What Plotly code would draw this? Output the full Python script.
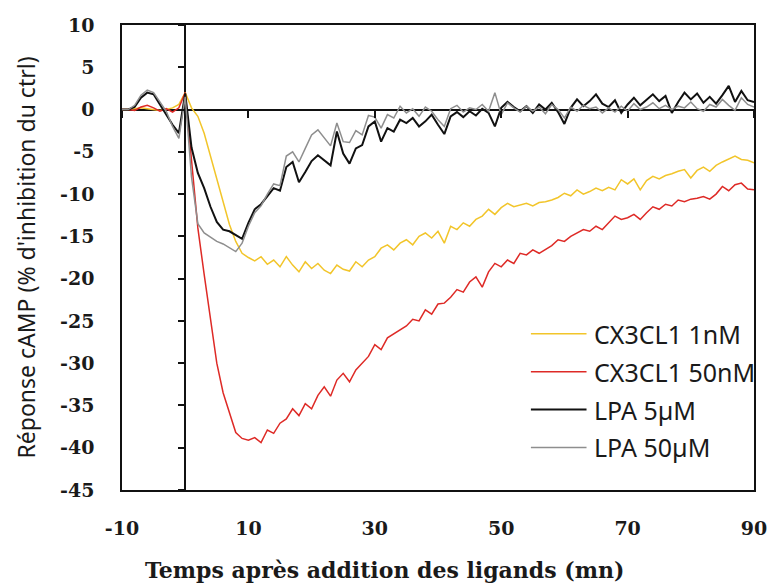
import plotly.graph_objects as go

# Time after ligand addition (min)
temps = list(range(-10, 91))

# cAMP response (% inhibition of control) for each ligand
cx3cl1_1nm = [
    0, 0, 0.1, 0.2, 0.1, 0.0, -0.1, 0.0, 0.2, 0.6,
    2.0, 0.2, -0.8, -2.8, -5.5, -8.2, -11.0, -13.6, -15.6, -17.0,
    -17.5, -17.9, -17.4, -18.3, -17.8, -18.6, -17.4, -18.4, -19.2, -18.0,
    -18.8, -18.2, -19.0, -19.4, -18.4, -18.9, -19.1, -18.0, -18.6, -17.8,
    -17.4, -16.4, -16.0, -16.6, -15.8, -15.4, -16.0, -15.0, -14.6, -15.2,
    -14.4, -15.8, -13.8, -14.2, -13.4, -13.8, -13.0, -12.6, -11.8, -12.4,
    -11.6, -11.1, -11.5, -11.3, -11.1, -11.4, -11.0, -10.9, -10.7, -10.4,
    -9.9, -10.2, -9.5, -10.0, -9.7, -9.3, -9.6, -9.2, -9.5, -8.3,
    -8.8, -8.2, -9.5, -8.4, -7.9, -8.2, -7.8, -7.6, -7.3, -7.1,
    -8.1, -7.2, -6.8, -7.3, -6.6, -6.2, -5.8, -5.5, -5.9, -6.0,
    -6.3,
]
cx3cl1_50nm = [
    0, 0, -0.1, 0.3, 0.5, 0.2, -0.2, 0.1, -0.3, 0.2,
    2.0, -6.0, -14.0, -19.5, -25.0, -30.0, -33.5, -36.0, -38.2, -38.9,
    -39.1, -38.8, -39.4, -37.9, -38.3, -37.1, -36.6, -35.4, -36.2, -34.8,
    -35.4, -33.8, -32.8, -33.9, -32.0, -31.2, -32.2, -30.8, -30.0, -29.2,
    -27.8, -28.4, -27.0, -26.5, -26.0, -25.6, -24.8, -25.0, -23.7, -24.2,
    -23.0, -22.9, -22.2, -21.3, -21.6, -20.4, -19.8, -21.0, -19.2, -18.2,
    -18.6, -17.8, -18.2, -17.0, -17.2, -16.6, -17.0, -16.6, -16.1, -15.4,
    -15.6, -15.0, -14.6, -14.2, -14.4, -13.8, -14.2, -13.4, -12.6, -13.0,
    -12.8, -12.4, -13.0, -12.2, -11.5, -11.8, -11.2, -11.4, -10.7, -10.9,
    -10.6, -10.5, -10.3, -10.6, -10.0, -9.1, -9.6, -8.9, -8.7, -9.4,
    -9.5,
]
lpa_5um = [
    0, 0, 0.3, 1.4, 2.0, 1.8, 0.6, -0.6, -1.8, -2.8,
    1.9, -4.5, -7.5, -9.3, -11.5, -13.3, -14.2, -14.4, -14.9, -15.3,
    -13.4, -11.8, -11.2, -10.2, -9.3, -9.6, -6.8, -6.2, -8.6, -7.4,
    -6.1, -5.4, -6.0, -6.6, -2.6, -5.2, -6.4, -4.6, -4.2, -2.0,
    -1.4, -3.8, -2.2, -2.6, -1.2, -1.6, -1.0, -2.0, -1.4, -0.6,
    -1.8, -2.9, -0.8, -0.3, -0.9, -0.2, -0.7, 0.1, -0.4, -2.0,
    0.2, 0.9, 0.3, -0.2, 0.4, -0.4, 0.6, 0.0, 0.8, -0.3,
    -1.7, 0.2, 1.2, 0.4, 1.0, 1.8, 0.7, 0.3, 1.1, -0.4,
    0.6, 1.4, 0.5, 1.2, 1.8, 1.0, 1.6, -0.4, 0.9, 2.0,
    1.2, 1.9, 0.8, 1.5, 0.7, 1.7, 2.8, 0.9, 2.2, 1.1,
    0.9,
]
lpa_50um = [
    0, 0, 0.5, 1.7, 2.3, 2.0, 0.9, -0.2, -2.0, -3.4,
    1.5, -8.0, -13.5, -14.6, -15.1, -15.6, -15.9, -16.4, -16.8, -15.8,
    -13.8, -12.2, -11.4, -10.0, -8.8, -9.0, -5.5, -5.0, -6.2, -4.6,
    -3.0, -2.4, -3.4, -4.3, -1.6, -3.8, -3.9, -2.5, -3.0, -0.7,
    -0.9, -2.2, -0.6, -1.0, 0.4, -0.4, 0.1, -0.8, 0.3, -0.2,
    -1.2, -2.0, 0.1, 0.5, -0.3, 0.2, 0.0, 0.6, -0.2, 2.0,
    -0.6, 0.8, 0.2, -0.3, 0.4, -0.2, 0.3, -0.5, 0.6, 0.0,
    -1.0, 0.3, -0.2, 0.5, 0.1, 0.3, -0.4, 0.2, -0.3, 0.4,
    -0.2, 0.7, 0.0, 0.3, 0.8, 0.1, 0.5, 0.0, 0.4, 0.2,
    0.9, 0.1, -0.2, 0.6, 0.3, 1.2, 0.5, -0.1, 1.4, 0.6,
    0.3,
]

series_names = ["CX3CL1 1nM", "CX3CL1 50nM", "LPA 5µM", "LPA 50µM"]
series_values = [cx3cl1_1nm, cx3cl1_50nm, lpa_5um, lpa_50um]
series_colors = ["#F2C52A", "#DE2A26", "#111111", "#8E8E8E"]
series_widths = [1.5, 1.5, 2.0, 1.5]

x_tick_vals = [-10, 10, 30, 50, 70, 90]
y_tick_vals = list(range(10, -50, -5))

X_RANGE = [-10, 90]
Y_RANGE = [-45, 10]

tick_font = dict(family="DejaVu Serif", size=19, color="#1a1a1a", weight="bold")
sans = "Noto Sans"

fig = go.Figure()
for name, vals, col, w in zip(series_names, series_values, series_colors, series_widths):
    fig.add_trace(go.Scatter(
        x=temps, y=vals, mode="lines", name=name,
        line=dict(color=col, width=w), showlegend=False,
    ))

# empty trace so the crossing-line tick axes get drawn
fig.add_trace(go.Scatter(x=[None], y=[None], xaxis="x2", yaxis="y2",
                         mode="lines", showlegend=False, hoverinfo="skip"))

# Hand-drawn legend: long line sample followed by label
legend_top = 0.336
legend_step = 0.0815
for i, (name, col, w) in enumerate(zip(series_names, series_colors, series_widths)):
    yy = legend_top - i * legend_step
    fig.add_shape(type="line", xref="paper", yref="paper",
                  x0=0.647, x1=0.735, y0=yy, y1=yy,
                  line=dict(color=col, width=w))
    fig.add_annotation(xref="paper", yref="paper", x=0.743, y=yy,
                       text=name, showarrow=False, xanchor="left", yanchor="middle",
                       font=dict(family=sans, size=25, color="#1a1a1a"))

# x-axis title, set a little left of the plot centre
fig.add_annotation(xref="paper", yref="paper", x=0.415, y=-0.172,
                   text="Temps après addition des ligands (mn)", showarrow=False,
                   xanchor="center", yanchor="middle",
                   font=dict(family="DejaVu Serif", size=22, color="#1a1a1a", weight="bold"))

zero_x_frac = (0 - X_RANGE[0]) / (X_RANGE[1] - X_RANGE[0])
zero_y_frac = (0 - Y_RANGE[0]) / (Y_RANGE[1] - Y_RANGE[0])

fig.update_layout(
    width=779, height=584,
    margin=dict(l=122, r=16, t=25, b=94),
    paper_bgcolor="white", plot_bgcolor="white",
    xaxis=dict(
        range=X_RANGE, domain=[0, 1],
        tickvals=x_tick_vals, ticktext=[str(v) for v in x_tick_vals],
        ticks="outside", ticklen=20, tickcolor="rgba(0,0,0,0)",
        tickfont=tick_font,
        showgrid=False, zeroline=True, zerolinecolor="#111", zerolinewidth=1.5,
        showline=True, linecolor="#111", linewidth=1.5, mirror=True,
    ),
    yaxis=dict(
        range=Y_RANGE, domain=[0, 1],
        tickvals=y_tick_vals, ticktext=[str(v) for v in y_tick_vals],
        ticks="outside", ticklen=22, tickcolor="rgba(0,0,0,0)",
        tickfont=tick_font,
        showgrid=False, zeroline=True, zerolinecolor="#111", zerolinewidth=1.5,
        showline=True, linecolor="#111", linewidth=1.5, mirror=True,
        title=dict(text="Réponse cAMP (% d'inhibition du ctrl)",
                   font=dict(family=sans, size=23, color="#1a1a1a"),
                   standoff=18),
    ),
    # tick marks sitting on the crossing lines (x = 0 and y = 0)
    xaxis2=dict(
        range=X_RANGE, overlaying="x", anchor="free", position=zero_y_frac,
        side="bottom", tickvals=x_tick_vals, ticks="outside", ticklen=7,
        tickcolor="#111", tickwidth=1.5, showticklabels=False,
        showgrid=False, zeroline=False, showline=False,
    ),
    yaxis2=dict(
        range=Y_RANGE, overlaying="y", anchor="free", position=zero_x_frac,
        side="left", tickvals=y_tick_vals, ticks="outside", ticklen=7,
        tickcolor="#111", tickwidth=1.5, showticklabels=False,
        showgrid=False, zeroline=False, showline=False,
    ),
)

fig.write_html("out.html")
